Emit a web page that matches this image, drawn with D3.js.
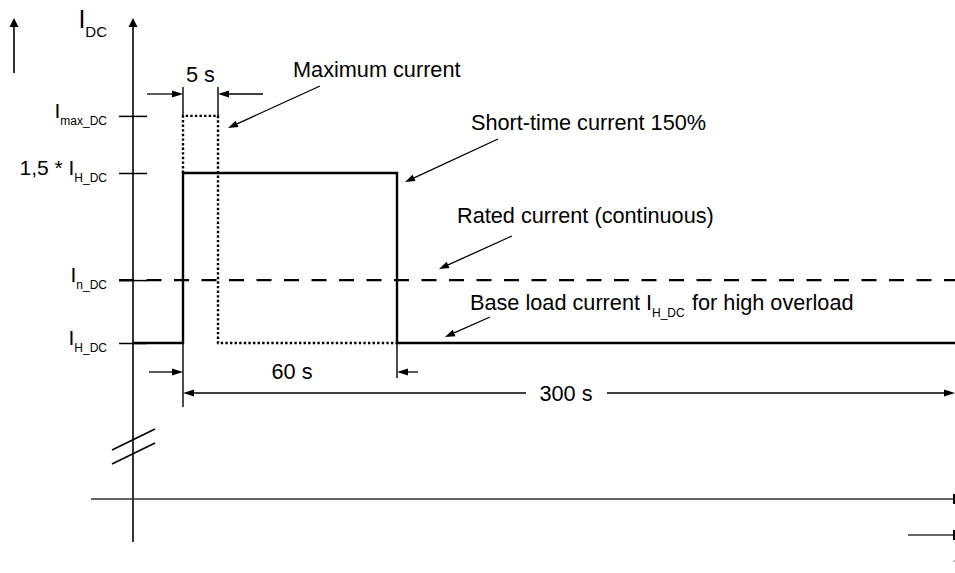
<!DOCTYPE html>
<html><head><meta charset="utf-8">
<script src="https://cdn.jsdelivr.net/npm/d3@7"></script>
<style>
body{margin:0;background:#fff}
svg text{font-family:"Liberation Sans",Arial,Helvetica,sans-serif;fill:#000}
</style>
</head><body>
<svg id="c" width="955" height="573"></svg>
<script>
// ---------- data ----------
const timeKeys = [-20, -10, 0, 5, 60, 300];           // schematic time axis (s)
const levelValues = [1, 1.185, 1.5, 1.668];            // current levels relative to I_H_DC
const levelMain = ["I", "I", "1,5 * I", "I"];
const levelSub  = ["H_DC", "n_DC", "H_DC", "max_DC"];
const solidT  = [-10, 0, 0, 60, 60, 300];              // short-time current 150 % profile
const solidV  = [1, 1, 1.5, 1.5, 1, 1];
const dottedT = [0, 0, 5, 5, 60];                      // maximum current profile
const dottedV = [1.5, 1.668, 1.668, 1, 1];
const ratedT  = [-10, 300];                            // rated current (continuous)
const ratedV  = [1.185, 1.185];
const durationLabels = ["5 s", "60 s", "300 s"];
const annotationTexts = ["Maximum current", "Short-time current 150%", "Rated current (continuous)"];

// ---------- layout ----------
const xRange = [91, 133, 183, 218, 397, 955];
const x = d3.scaleLinear().domain(timeKeys).range(xRange);
const y = d3.scaleLinear().domain([0, 1, 1.5]).range([499, 343, 173]);
const yTop = 1.956, yBottom = -0.276;
const FS = 21.7;

const svg = d3.select("#c");
const g = svg.append("g");

function arrow(x1, y1, x2, y2, len = 10, hw = 3.5, sw = 1.3) {
  const a = Math.atan2(y2 - y1, x2 - x1);
  const bx = x2 - len * Math.cos(a), by = y2 - len * Math.sin(a);
  g.append("line").attr("x1", x1).attr("y1", y1).attr("x2", bx).attr("y2", by)
    .attr("stroke", "#000").attr("stroke-width", sw);
  const p = [[x2, y2], [bx - hw * Math.sin(a), by + hw * Math.cos(a)], [bx + hw * Math.sin(a), by - hw * Math.cos(a)]];
  g.append("path").attr("d", "M" + p.map(q => q.join(",")).join("L") + "Z").attr("fill", "#000");
}
function seg(x1, y1, x2, y2, sw = 1.5, col = "#000") {
  g.append("line").attr("x1", x1).attr("y1", y1).attr("x2", x2).attr("y2", y2)
    .attr("stroke", col).attr("stroke-width", sw);
}

const ax = x(-10);
// y axis line with arrow
seg(ax, y(yBottom), ax, y(yTop) + 8, 1.6);
arrow(ax, y(yTop) + 9, ax, y(yTop), 9, 4.5, 1.6);
// small direction arrow at left
arrow(14, 73, 14, 18, 9, 4.5, 1.6);

// y ticks through d3 axes (both sides of the axis)
const tl = g.append("g").attr("transform", `translate(${ax},0)`)
  .call(d3.axisLeft(y).tickValues(levelValues).tickSize(14).tickFormat(""));
const tr = g.append("g").attr("transform", `translate(${ax},0)`)
  .call(d3.axisRight(y).tickValues(levelValues).tickSize(14).tickFormat(""));
[tl, tr].forEach(s => { s.select(".domain").remove(); s.selectAll("line").attr("stroke", "#000").attr("stroke-width", 1.5); });

// y tick labels
levelValues.forEach((v, i) => {
  const t = g.append("text").attr("x", 107).attr("y", y(v) + 2).attr("text-anchor", "end");
  t.append("tspan").attr("font-size", 21).text(levelMain[i]);
  t.append("tspan").attr("font-size", 12).attr("dy", 7).text(levelSub[i]);
});
// I_DC axis label
{
  const t = g.append("text").attr("x", 107).attr("y", 28).attr("text-anchor", "end");
  t.append("tspan").attr("font-size", 25).text("I");
  t.append("tspan").attr("font-size", 15).attr("dy", 9).text("DC");
}

// axis break slashes
[439.5, 453.5].forEach(cy => seg(ax - 21, cy + 10.5, ax + 22, cy - 10.5, 1.6));

// x axis
seg(x(-20), y(0), x(300), y(0), 1.6, "#333");
seg(x(300) - 1, y(0) - 5, x(300) - 1, y(0) + 5, 2, "#000");
// bottom fragment
seg(x(300) - 47, 535, x(300), 535, 1.6, "#333");
seg(x(300) - 1, 530, x(300) - 1, 540, 2, "#000");
seg(x(300) - 1, 560, x(300) - 1, 562, 1, "#888");

// rated current dashed
g.append("path")
  .attr("d", d3.line()([[x(ratedT[0]) - 14, y(ratedV[0])], [x(ratedT[1]), y(ratedV[1])]]))
  .attr("fill", "none").attr("stroke", "#000").attr("stroke-width", 2.3).attr("stroke-dasharray", "15,12.5");

// maximum current dotted
g.append("path")
  .attr("d", d3.line().x(d => x(d[0])).y(d => y(d[1]))(dottedT.map((t, i) => [t, dottedV[i]])))
  .attr("fill", "none").attr("stroke", "#000").attr("stroke-width", 2.4).attr("stroke-dasharray", "2.4,2.2");

// short-time current solid
g.append("path")
  .attr("d", d3.line().x(d => x(d[0])).y(d => y(d[1]))(solidT.map((t, i) => [t, solidV[i]])))
  .attr("fill", "none").attr("stroke", "#000").attr("stroke-width", 2.4);

// dimension lines
const yMax = y(dottedV[1]);
seg(x(0), 87, x(0), yMax, 1.4);
seg(x(5), 87, x(5), yMax, 1.4);
arrow(147, 94, x(0), 94, 11, 3.5);
arrow(263, 94, x(5), 94, 11, 3.5);
g.append("text").attr("x", (x(0) + x(5)) / 2).attr("y", 82).attr("text-anchor", "middle").attr("font-size", FS).text(durationLabels[0]);

seg(x(0), y(1), x(0), 407, 1.4);
seg(x(60), y(1), x(60), 378, 1.4);
arrow(149, 372, x(0), 372, 11, 3.5);
arrow(418, 372, x(60), 372, 11, 3.5);
g.append("text").attr("x", 292).attr("y", 379).attr("text-anchor", "middle").attr("font-size", FS).text(durationLabels[1]);

arrow(526, 393, x(0), 393, 11, 3.5);
arrow(607, 393, x(300), 393, 11, 3.5);
g.append("text").attr("x", 566).attr("y", 401).attr("text-anchor", "middle").attr("font-size", FS).text(durationLabels[2]);

// annotations
g.append("text").attr("x", 293).attr("y", 77).attr("font-size", FS).text(annotationTexts[0]);
arrow(320, 86, 228, 128, 10, 3.5);
g.append("text").attr("x", 471).attr("y", 130).attr("font-size", FS).text(annotationTexts[1]);
arrow(498, 139, 405, 182, 10, 3.5);
g.append("text").attr("x", 457).attr("y", 223).attr("font-size", FS).text(annotationTexts[2]);
arrow(512, 236, 439, 269, 10, 3.5);
{
  const t = g.append("text").attr("y", 310).attr("font-size", FS);
  t.append("tspan").attr("x", 470).text("Base load current I");
  t.append("tspan").attr("x", 652).attr("y", 317).attr("font-size", 12).text("H_DC");
  t.append("tspan").attr("x", 692).attr("y", 310).text("for high overload");
}
arrow(490, 317, 445, 337, 10, 3.5);
</script>
</body></html>
